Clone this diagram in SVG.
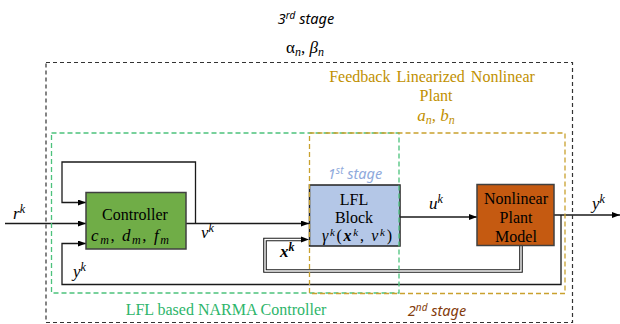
<svg xmlns="http://www.w3.org/2000/svg" width="620" height="324" viewBox="0 0 620 324">
<defs>
<marker id="arr" markerWidth="8" markerHeight="6" refX="8" refY="3" orient="auto" markerUnits="userSpaceOnUse"><path d="M0,0 L8,3 L0,6 z" fill="#000"/></marker>
</defs>
<rect width="620" height="324" fill="#fff"/>

<g id="connectors" fill="none" stroke="#1a1a1a" stroke-width="1.3">
<path d="M5,223.5 H86" marker-end="url(#arr)"/>
<path d="M186,223.5 H309" marker-end="url(#arr)"/>
<path d="M195.5,223.5 V162 H62 V202.5 H86" marker-end="url(#arr)"/>
<path d="M400,217 H477" marker-end="url(#arr)"/>
<path d="M554,215 H620" marker-end="url(#arr)"/>
<path d="M561,215 V284.5 H62 V243.5 H86" marker-end="url(#arr)"/>
<path d="M521,246 V271 H265 V239.5 H302" stroke-width="3.6"/>
<path d="M521,246 V271 H265 V239.5 H302" stroke="#fff" stroke-width="1.4"/>
<path d="M301,236.5 L309,239.5 L301,242.5 z" fill="#000" stroke="none"/>
</g>

<g id="controller">
<rect x="86" y="192.5" width="100" height="56.5" fill="#70AD47" stroke="#404040" stroke-width="1.5"/>
<text x="135" y="220" text-anchor="middle" font-family="Liberation Serif" font-size="16">Controller</text>
<text x="130" y="241" text-anchor="middle" font-family="Liberation Serif" font-size="17" font-style="italic" textLength="78" lengthAdjust="spacing">c<tspan font-size="12" dy="3">m</tspan><tspan font-style="normal" dy="-3">, </tspan>d<tspan font-size="12" dy="3">m</tspan><tspan font-style="normal" dy="-3">, </tspan>f<tspan font-size="12" dy="3">m</tspan></text>
</g>

<g id="lfl">
<rect x="309.5" y="185" width="90.5" height="61" fill="#B4C7E7" stroke="#222" stroke-width="1.5"/>
<text x="354" y="205" text-anchor="middle" font-family="Liberation Serif" font-size="16">LFL</text>
<text x="354" y="223" text-anchor="middle" font-family="Liberation Serif" font-size="16">Block</text>
<text x="357" y="241" text-anchor="middle" font-family="Liberation Serif" font-size="16" font-style="italic" textLength="70" lengthAdjust="spacing">γ<tspan font-size="11" dy="-5">k</tspan><tspan font-style="normal" dy="5">(</tspan><tspan font-weight="bold">x</tspan><tspan font-size="11" dy="-5">k</tspan><tspan font-style="normal" dy="5">, </tspan>v<tspan font-size="11" dy="-5">k</tspan><tspan font-style="normal" dy="5">)</tspan></text>
</g>

<g id="plant">
<rect x="477" y="184.5" width="77" height="61" fill="#C55A11" stroke="#404040" stroke-width="1.5"/>
<text x="516" y="203.5" text-anchor="middle" font-family="Liberation Serif" font-size="16">Nonlinear</text>
<text x="516" y="222.5" text-anchor="middle" font-family="Liberation Serif" font-size="16">Plant</text>
<text x="516" y="241.5" text-anchor="middle" font-family="Liberation Serif" font-size="16">Model</text>
</g>

<g id="labels">
<text x="13" y="219" font-family="Liberation Serif" font-size="17" font-style="italic">r<tspan font-size="12" dy="-6">k</tspan></text>
<text x="201" y="238" font-family="Liberation Serif" font-size="17" font-style="italic">v<tspan font-size="12" dy="-6">k</tspan></text>
<text x="429" y="209" font-family="Liberation Serif" font-size="17" font-style="italic">u<tspan font-size="12" dy="-6">k</tspan></text>
<text x="592" y="209" font-family="Liberation Serif" font-size="17" font-style="italic">y<tspan font-size="12" dy="-6">k</tspan></text>
<text x="73" y="277" font-family="Liberation Serif" font-size="17" font-style="italic">y<tspan font-size="12" dy="-6">k</tspan></text>
<text x="280" y="257" font-family="Liberation Serif" font-size="17" font-style="italic" font-weight="bold">x<tspan font-size="12" dy="-6">k</tspan></text>
<text x="355" y="179" text-anchor="middle" fill="#8FAADC" font-family="Noto Sans" font-size="14.5" font-style="italic">1<tspan font-size="10" dy="-5">st</tspan><tspan dy="5"> stage</tspan></text>
<text x="437" y="316" text-anchor="middle" fill="#843C0C" font-family="Noto Sans" font-size="14.5" font-style="italic">2<tspan font-size="10" dy="-5">nd</tspan><tspan dy="5"> stage</tspan></text>
<text x="306" y="24" text-anchor="middle" fill="#000" font-family="Noto Sans" font-size="14.5" font-style="italic">3<tspan font-size="10" dy="-5">rd</tspan><tspan dy="5"> stage</tspan></text>
<text x="305" y="53" text-anchor="middle" font-family="Liberation Serif" font-size="17">α<tspan font-style="italic" font-size="12" dy="3">n</tspan><tspan dy="-3">, </tspan><tspan font-style="italic">β</tspan><tspan font-style="italic" font-size="12" dy="3">n</tspan></text>
<text x="432" y="82" text-anchor="middle" fill="#BF9000" font-family="Liberation Serif" font-size="16" word-spacing="2">Feedback Linearized Nonlinear</text>
<text x="436" y="101" text-anchor="middle" fill="#BF9000" font-family="Liberation Serif" font-size="16">Plant</text>
<text x="436" y="121" text-anchor="middle" fill="#BF9000" font-family="Liberation Serif" font-size="17" font-style="italic">a<tspan font-size="12" dy="3">n</tspan><tspan font-style="normal" dy="-3">, </tspan>b<tspan font-size="12" dy="3">n</tspan></text>
<text x="226" y="315" text-anchor="middle" fill="#2DB56A" font-family="Liberation Serif" font-size="16">LFL based NARMA Controller</text>
</g>

<g id="regions" fill="none">
<rect x="46" y="62.5" width="526.5" height="260" stroke="#333" stroke-width="1.2" stroke-dasharray="4,3"/>
<rect x="51.5" y="133" width="347.5" height="160" stroke="#4CC27C" stroke-width="1.3" stroke-dasharray="5,3"/>
<rect x="309.5" y="133" width="255.5" height="160.5" stroke="#C9A12E" stroke-width="1.3" stroke-dasharray="5,3"/>
</g>
</svg>
